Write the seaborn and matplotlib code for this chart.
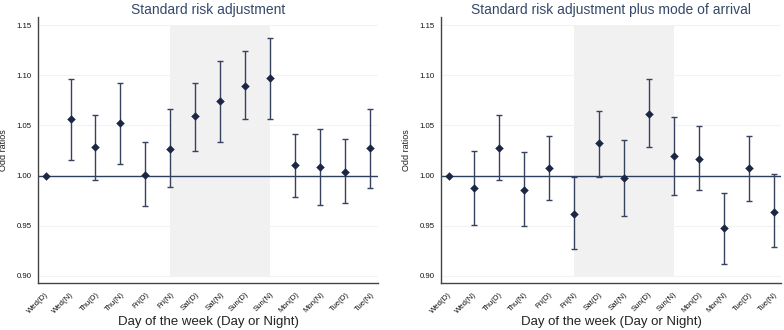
import numpy as np
import matplotlib
matplotlib.use("Agg")
import matplotlib.pyplot as plt
import seaborn as sns

# Day/night categories
days = ["Wed(D)", "Wed(N)", "Thu(D)", "Thu(N)", "Fri(D)", "Fri(N)", "Sat(D)",
        "Sat(N)", "Sun(D)", "Sun(N)", "Mon(D)", "Mon(N)", "Tue(D)", "Tue(N)"]

# Standard risk adjustment: odds ratio and 95% CI
std_or = [1.000, 1.056, 1.028, 1.052, 1.001, 1.026, 1.059,
          1.074, 1.089, 1.097, 1.011, 1.009, 1.004, 1.027]
std_lo = [np.nan, 1.016, 0.996, 1.012, 0.970, 0.989, 1.025,
          1.033, 1.056, 1.056, 0.979, 0.971, 0.973, 0.988]
std_hi = [np.nan, 1.096, 1.060, 1.092, 1.033, 1.066, 1.092,
          1.114, 1.124, 1.137, 1.041, 1.046, 1.036, 1.066]

# Standard risk adjustment plus mode of arrival
moa_or = [1.000, 0.988, 1.027, 0.986, 1.008, 0.962, 1.032,
          0.998, 1.061, 1.020, 1.017, 0.948, 1.008, 0.964]
moa_lo = [np.nan, 0.951, 0.996, 0.950, 0.976, 0.927, 0.999,
          0.960, 1.028, 0.981, 0.986, 0.912, 0.975, 0.929]
moa_hi = [np.nan, 1.025, 1.060, 1.024, 1.039, 0.999, 1.064,
          1.035, 1.096, 1.058, 1.049, 0.983, 1.039, 1.002]

titles = ["Standard risk adjustment", "Standard risk adjustment plus mode of arrival"]
yticks = [0.90, 0.95, 1.00, 1.05, 1.10, 1.15]

sns.set_theme(style="white")
plt.rcParams["font.family"] = ["Liberation Sans", "DejaVu Sans"]

fig = plt.figure(figsize=(7.84, 3.30), dpi=100)
ax1 = fig.add_axes([38 / 784, 1 - 283 / 330, 340 / 784, 266 / 330])
ax2 = fig.add_axes([441 / 784, 1 - 283 / 330, 340 / 784, 266 / 330])

line_col = "#36425e"
mark_col = "#1b2744"
pos = np.arange(len(days))

for ax, title, orr, lo, hi in [(ax1, titles[0], std_or, std_lo, std_hi),
                               (ax2, titles[1], moa_or, moa_lo, moa_hi)]:
    orr = np.array(orr)
    lo = np.array(lo)
    hi = np.array(hi)

    # weekend shading and faint grid
    ax.fill_between([5, 9], 0.90, 1.15, color="#f1f1f1", lw=0, zorder=0)
    for t in yticks:
        ax.plot([-0.3, 13.3], [t, t], color="#f2f2f2", lw=0.8, zorder=0.5)
    ax.axhline(1.0, color="#2c3f5e", lw=1.0, zorder=1)

    ax.errorbar(pos, orr, yerr=[orr - lo, hi - orr], fmt="none",
                ecolor=line_col, elinewidth=1.0, capsize=2.3, capthick=1.0, zorder=2)
    sns.scatterplot(x=pos, y=orr, marker="D", s=16, color=mark_col,
                    edgecolor=mark_col, linewidth=0.3, ax=ax, zorder=3)

    ax.set_xlim(-0.3, 13.3)
    ax.set_ylim(0.893, 1.158)
    ax.set_xticks(pos)
    ax.set_xticklabels(days, rotation=45, ha="right", rotation_mode="anchor", fontsize=5.6)
    ax.set_yticks(yticks)
    ax.set_yticklabels([f"{t:.2f}" for t in yticks], fontsize=5.6)
    ax.tick_params(axis="both", direction="out", length=3, width=0.8, colors="#333333",
                   labelcolor="#111111", pad=1.5)
    ax.tick_params(axis="x", length=4)
    for s in ["top", "right"]:
        ax.spines[s].set_visible(False)
    for s in ["left", "bottom"]:
        ax.spines[s].set_color("#444444")
        ax.spines[s].set_linewidth(1.0)

    ax.set_title(title, fontsize=10, color="#34496a", pad=2)
    ax.set_xlabel("Day of the week (Day or Night)", fontsize=9.5, color="#222222", labelpad=1)
    ax.set_ylabel("Odd ratios", fontsize=6.5, color="#222222", labelpad=6)

fig.savefig("out.png", dpi=100)
